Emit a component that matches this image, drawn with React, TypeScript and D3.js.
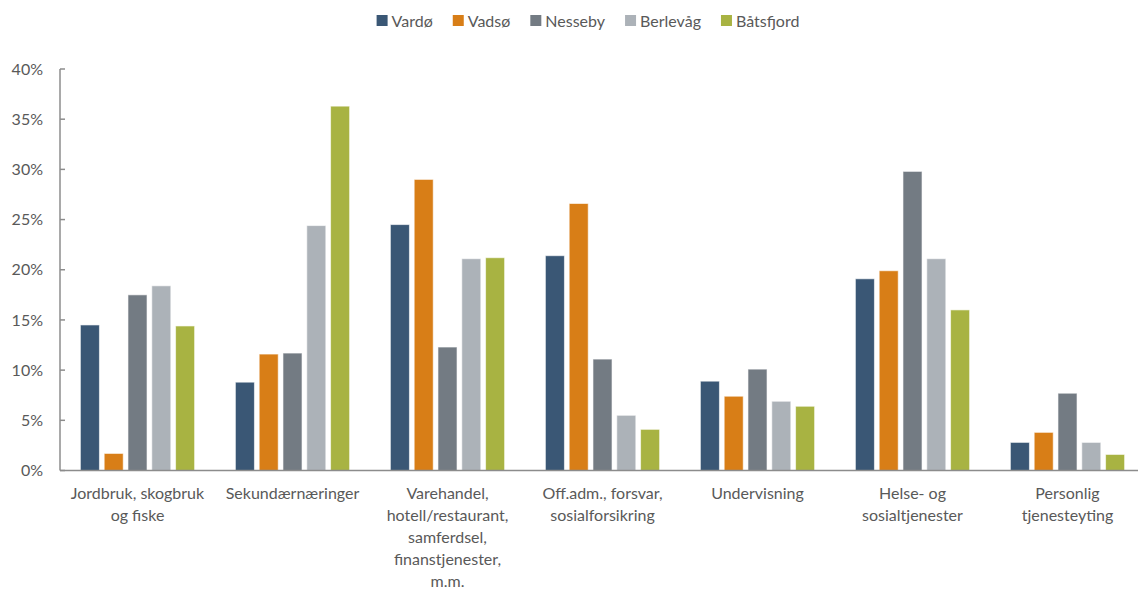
import React, { useEffect, useRef } from "react";
import * as d3 from "d3";

const categories: string[][] = [
  ["Jordbruk, skogbruk", "og fiske"],
  ["Sekundærnæringer"],
  ["Varehandel,", "hotell/restaurant,", "samferdsel,", "finanstjenester,", "m.m."],
  ["Off.adm., forsvar,", "sosialforsikring"],
  ["Undervisning"],
  ["Helse- og", "sosialtjenester"],
  ["Personlig", "tjenesteyting"],
];

const seriesNames = ["Vardø", "Vadsø", "Nesseby", "Berlevåg", "Båtsfjord"];
const seriesColors = ["#3A5775", "#D87E17", "#737B83", "#ACB2B8", "#A8B342"];

const vardo = [14.5, 8.8, 24.5, 21.4, 8.9, 19.1, 2.8];
const vadso = [1.7, 11.6, 29.0, 26.6, 7.4, 19.9, 3.8];
const nesseby = [17.5, 11.7, 12.3, 11.1, 10.1, 29.8, 7.7];
const berlevag = [18.4, 24.4, 21.1, 5.5, 6.9, 21.1, 2.8];
const batsfjord = [14.4, 36.3, 21.2, 4.1, 6.4, 16.0, 1.6];

const seriesValues = [vardo, vadso, nesseby, berlevag, batsfjord];
const yTicks = [0, 5, 10, 15, 20, 25, 30, 35, 40];

const W = 1138;
const H = 589;
const FONT = "Lato, 'Open Sans', sans-serif";
const TEXT = "#595959";
const FS = 16;

export default function App() {
  const ref = useRef<SVGSVGElement>(null);

  useEffect(() => {
    const svg = d3.select(ref.current);
    svg.selectAll("*").remove();

    const left = 60;
    const right = 1145;
    const top = 69;
    const bottom = 470.5;

    const catIdx = categories.map((_, i) => String(i));
    const x0 = d3.scaleBand<string>().domain(catIdx).range([left, right]).paddingInner(0.263).paddingOuter(0.1315);
    const x1 = d3.scaleBand<string>().domain(seriesNames).range([0, x0.bandwidth()]).paddingInner(0.2).paddingOuter(0);
    const y = d3.scaleLinear().domain([0, 40]).range([bottom, top]);

    // bars
    seriesNames.forEach((s, si) => {
      svg
        .append("g")
        .selectAll("rect")
        .data(seriesValues[si])
        .join("rect")
        .attr("x", (_, i) => (x0(String(i)) as number) + (x1(s) as number))
        .attr("y", (d) => y(d))
        .attr("width", x1.bandwidth())
        .attr("height", (d) => y(0) - y(d))
        .attr("fill", seriesColors[si])
        .attr("stroke", "#ffffff")
        .attr("stroke-opacity", 0.6)
        .attr("stroke-width", 1);
    });

    // y axis
    const axisColor = "#8C8C8C";
    svg.append("line").attr("x1", left).attr("x2", left).attr("y1", top).attr("y2", bottom).attr("stroke", axisColor).attr("stroke-width", 1.5);
    svg
      .append("g")
      .selectAll("line")
      .data(yTicks)
      .join("line")
      .attr("x1", left)
      .attr("x2", left + 5)
      .attr("y1", (d) => y(d))
      .attr("y2", (d) => y(d))
      .attr("stroke", axisColor)
      .attr("stroke-width", 1.5);
    svg
      .append("g")
      .selectAll("text")
      .data(yTicks)
      .join("text")
      .attr("x", 43)
      .attr("y", (d) => y(d))
      .attr("dy", "0.35em")
      .attr("text-anchor", "end")
      .attr("font-family", FONT)
      .attr("font-size", FS)
      .attr("fill", TEXT)
      .text((d) => `${d}%`);

    // x axis
    svg.append("line").attr("x1", left).attr("x2", right).attr("y1", bottom).attr("y2", bottom).attr("stroke", axisColor).attr("stroke-width", 1.5);

    const catG = svg.append("g");
    categories.forEach((lines, i) => {
      const cx = (x0(String(i)) as number) + x0.bandwidth() / 2;
      const t = catG
        .append("text")
        .attr("text-anchor", "middle")
        .attr("font-family", FONT)
        .attr("font-size", FS)
        .attr("fill", TEXT);
      lines.forEach((ln, li) => {
        t.append("tspan").attr("x", cx).attr("y", 493 + li * 22.2).attr("dy", "0.35em").text(ln);
      });
    });

    // legend
    const lg = svg.append("g");
    const items: { g: any; w: number }[] = [];
    seriesNames.forEach((s, si) => {
      const g = lg.append("g");
      g.append("rect").attr("x", 0).attr("y", -6).attr("width", 11).attr("height", 11).attr("fill", seriesColors[si]);
      const tx = g
        .append("text")
        .attr("x", 15)
        .attr("y", 0)
        .attr("dy", "0.35em")
        .attr("font-family", FONT)
        .attr("font-size", FS)
        .attr("fill", TEXT)
        .text(s);
      const tw = (tx.node() as SVGTextElement).getComputedTextLength();
      items.push({ g, w: 15 + tw });
    });
    const gap = 20;
    const total = d3.sum(items, (d) => d.w) + gap * (items.length - 1);
    let cur = 588 - total / 2;
    items.forEach((it) => {
      it.g.attr("transform", `translate(${cur},21)`);
      cur += it.w + gap;
    });
  }, []);

  return (
    <svg ref={ref} width={W} height={H} style={{ display: "block", position: "absolute", left: 0, top: 0, background: "#fff" }} />
  );
}
